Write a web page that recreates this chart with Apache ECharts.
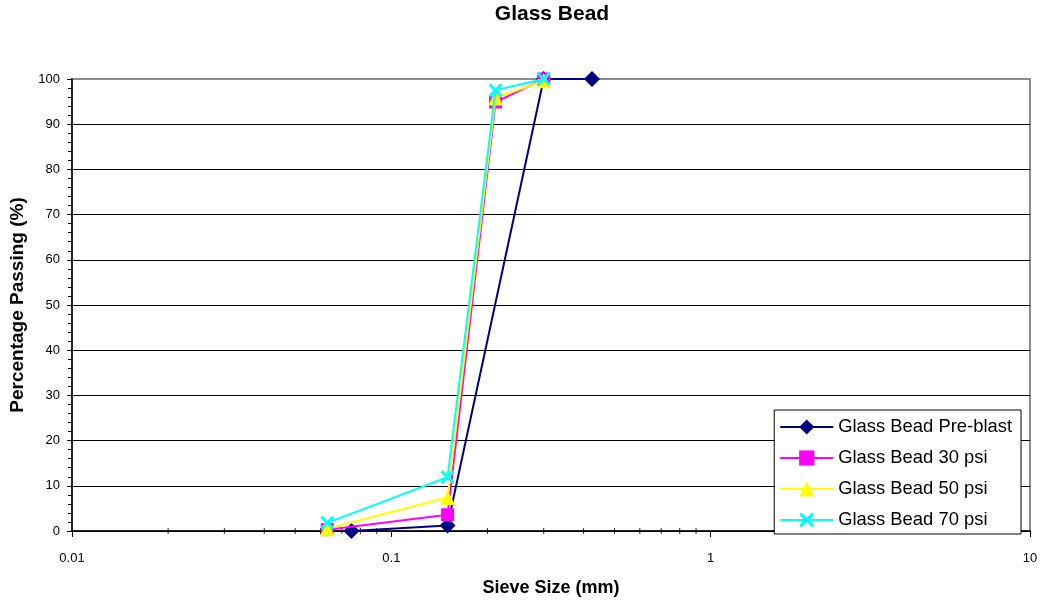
<!DOCTYPE html>
<html><head><meta charset="utf-8">
<script src="https://cdn.jsdelivr.net/npm/echarts@6/dist/echarts.min.js"></script>
<style>html,body{margin:0;padding:0;background:#fff}#c{width:1042px;height:602px}</style>
</head><body><div id="c"></div>
<script>
const seriesNames = ['Glass Bead Pre-blast','Glass Bead 30 psi','Glass Bead 50 psi','Glass Bead 70 psi'];
const sizesPre = [0.075, 0.15, 0.3, 0.425];
const valuesPre = [0, 1.2, 100, 100];
const sizes30 = [0.063, 0.15, 0.212, 0.3];
const values30 = [0.3, 3.6, 94.9, 100];
const sizes50 = [0.063, 0.15, 0.212, 0.3];
const values50 = [0.5, 7.4, 95.8, 99.6];
const sizes70 = [0.063, 0.15, 0.212, 0.3];
const values70 = [1.8, 11.9, 97.5, 100];
const minorTickValues = [0.02,0.03,0.04,0.05,0.06,0.07,0.08,0.09,0.2,0.3,0.4,0.5,0.6,0.7,0.8,0.9,2,3,4,5,6,7,8,9];

const colors = ['#000080','#ff00ff','#ffff00','#00ffff'];
const xPath = 'path://M1.5,0L5,3.5L8.5,0L10,1.5L6.5,5L10,8.5L8.5,10L5,6.5L1.5,10L0,8.5L3.5,5L0,1.5Z';
const symbols = ['diamond','rect','triangle',xPath];
const symSizes = [16,13,15,14];
const zip = (a,b)=>a.map((v,i)=>[v,b[i]]);
const allData = [zip(sizesPre,valuesPre),zip(sizes30,values30),zip(sizes50,values50),zip(sizes70,values70)];

const FONT = 'Liberation Sans, Arial, sans-serif';
const chart = echarts.init(document.getElementById('c'));
const splitColors = [];
for (let i=0;i<=10;i++) splitColors.push(i===10 ? '#8c8c8c' : '#000');

const series = seriesNames.map((n,i)=>({
  name:n, type:'line', data:allData[i], symbol:symbols[i], symbolSize:symSizes[i],
  showAllSymbol:true,
  itemStyle:{color:colors[i]}, lineStyle:{color:colors[i], width:2}, z:3+i
}));
series.push({
  type:'scatter', silent:true, data:minorTickValues.map(v=>[v,0]),
  symbol:'rect', symbolSize:[1,6], itemStyle:{color:'#000'}, z:2
});

chart.setOption({
  animation:false,
  backgroundColor:'#fff',
  textStyle:{fontFamily:FONT},
  title:{text:'Glass Bead', left:547, textAlign:'center', top:-1, textStyle:{fontFamily:FONT, fontSize:21, fontWeight:'bold', color:'#000'}},
  grid:{left:70, right:12, top:79, bottom:69, show:true, borderColor:'#8c8c8c', borderWidth:2, backgroundColor:'#fff'},
  legend:{
    data:seriesNames,
    orient:'vertical', right:21, bottom:68, itemWidth:53, itemHeight:19, itemGap:11,
    backgroundColor:'#fff', borderColor:'#000', borderWidth:1, padding:[7,9,4,5],
    textStyle:{fontFamily:FONT, fontSize:18.4, lineHeight:20, color:'#000'}
  },
  xAxis:{
    type:'log', logBase:10, min:0.01, max:10,
    name:'Sieve Size (mm)', nameLocation:'middle', nameGap:48,
    nameTextStyle:{fontFamily:FONT, fontSize:18, fontWeight:'bold', color:'#000'},
    axisLine:{show:true, lineStyle:{color:'#000', width:1.5}},
    axisTick:{show:true, inside:false, length:6, lineStyle:{color:'#000'}},
    axisLabel:{fontFamily:FONT, fontSize:13, color:'#000', margin:21, formatter:v=>String(+v.toPrecision(3))},
    splitLine:{show:false}
  },
  yAxis:{
    type:'value', min:0, max:100, interval:10,
    name:'Percentage Passing (%)', nameLocation:'middle', nameGap:45,
    nameTextStyle:{fontFamily:FONT, fontSize:19, fontWeight:'bold', color:'#000'},
    axisLine:{show:true, lineStyle:{color:'#000', width:1.5}},
    axisTick:{show:true, length:5, lineStyle:{color:'#000'}},
    minorTick:{show:true, splitNumber:5, length:4, lineStyle:{color:'#000'}},
    axisLabel:{fontFamily:FONT, fontSize:13, color:'#000', margin:12},
    splitLine:{show:true, lineStyle:{color:splitColors, width:1}}
  },
  series:series
});
</script></body></html>
